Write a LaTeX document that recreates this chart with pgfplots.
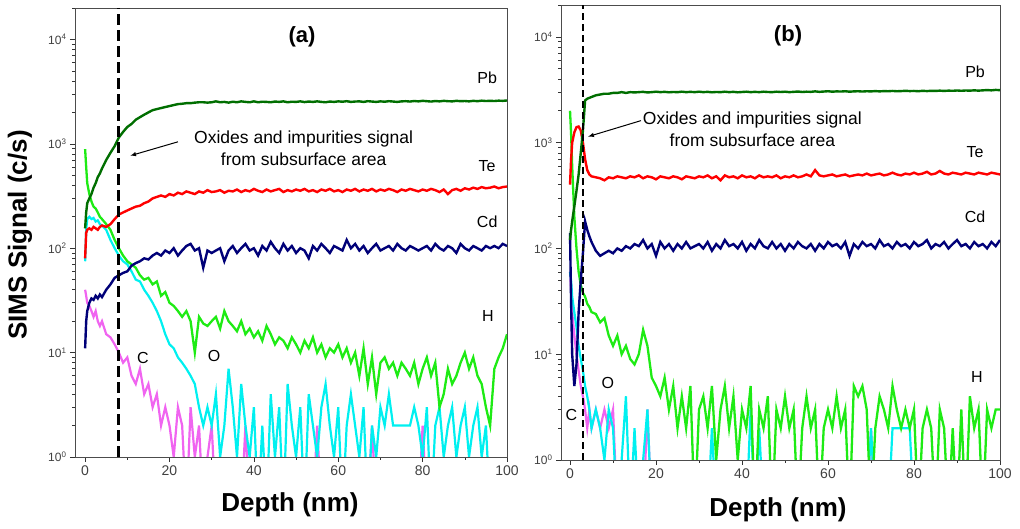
\documentclass[border=0pt]{standalone}
\usepackage{fontspec}
\setmainfont{Liberation Sans}
\usepackage{pgfplots}
\pgfplotsset{compat=1.18}
\usepackage{pgfplotstable}
\definecolor{cPb}{RGB}{0,110,0}
\definecolor{cTe}{RGB}{255,0,0}
\definecolor{cCd}{RGB}{0,0,120}
\definecolor{cH}{RGB}{30,235,20}
\definecolor{cO}{RGB}{0,240,240}
\definecolor{cC}{RGB}{240,100,240}

\pgfplotstableread{
x Pb Te Cd H O C
0 155 80 11 890 75 40
0.25 220 140 20 600 150 35
0.5 270 150 25 420 190 30
1 300 155 30 330 200 28
1.5 330 150 33 280 190 25
2 380 160 32 250 195 22
2.5 420 155 35 240 180 25
3 480 150 33 220 185 20
3.5 520 160 36 200 170 18
4 580 165 34 190 165 20
5 700 160 40 170 150 15
6 820 170 45 150 120 14
7 950 190 52 120 100 12
8 1150 210 55 100 85 10
9 1300 220 58 85 75 8
10 1450 230 60 75 70 9
11 1550 240 68 70 60 6
12 1700 250 72 65 50 5
13 1800 255 75 55 48 7
14 1900 270 80 50 40 4
15 2000 280 78 52 35 5
16 2100 300 85 45 30 3
17 2150 310 90 48 25 4
18 2200 320 85 35 20 2
19 2250 310 95 38 15 3
20 2300 330 90 30 12 2
21 2350 320 100 28 11 1
22 2400 340 85 25 9 3
23 2420 330 95 22 8 2
24 2450 350 105 25 7 0.3
25 2450 340 110 20 6 3
26 2480 330 95 10 5 1
27 2500 350 100 22 3 2
28 2500 340 65 19 2 0.3
29 2480 360 95 18 3 1
30 2500 345 90 20 2 2
31 2550 350 95 22 4 0.3
32 2500 360 100 17 1 0.3
33 2520 340 75 25 2 0.3
34 2480 355 95 20 7 0.3
35 2530 350 105 18 3 0.3
36 2500 365 90 16 1 0.3
37 2550 345 100 20 5 0.3
38 2520 360 110 15 2 2
39 2500 350 95 17 1 0.3
40 2550 370 100 14 3 0.3
41 2500 355 85 16 0.3 0.3
42 2530 345 105 13 2 0.3
43 2520 365 95 18 0.3 0.3
44 2500 350 115 15 4 0.3
45 2540 360 100 12 1 0.3
46 2520 370 90 14 3 0.3
47 2550 345 110 13 0.3 0.3
48 2500 360 95 11 5 0.3
49 2530 350 105 14 2 0.3
50 2520 365 90 12 1 0.3
51 2550 355 100 10 3 0.3
52 2510 370 95 13 0.3 0.3
53 2540 350 80 11 4 0.3
54 2520 360 105 14 2 0.3
55 2550 345 95 10 1 2
56 2520 365 110 12 3 0.3
57 2500 355 100 9 5 0.3
58 2540 370 90 11 2 0.3
59 2520 350 105 10 1 0.3
60 2550 360 100 12 3 0.3
61 2530 345 95 9 0.3 0.3
62 2560 365 120 11 2 0.3
63 2520 355 100 8 4 0.3
64 2540 370 110 10 2 0.3
65 2550 350 95 6 1 0.3
66 2520 365 105 11 3 0.3
67 2560 355 90 5 0.3 0.3
68 2540 370 100 9 2 2
69 2520 350 110 4 1 0.3
70 2550 365 95 8 3 0.3
71 2530 355 100 9 2 0.3
72 2560 370 105 7 4 0.3
73 2540 360 95 8 2 0.3
74 2520 345 110 6 2 0.3
75 2550 365 100 8 2 0.3
76 2560 355 95 7 2 0.3
77 2540 370 105 6 2 0.3
78 2570 360 100 8 3 0.3
79 2550 350 95 5 2 0.3
80 2580 365 100 7 1 2
81 2560 355 105 9 3 0.3
82 2540 370 95 6 0.3 0.3
83 2570 360 110 8 2 0.3
84 2550 345 100 3 3 0.3
85 2580 365 95 4 1 0.3
86 2560 330 105 7 2 0.3
87 2550 360 100 5 3 0.3
88 2580 370 90 6 1 0.3
89 2560 355 110 8 2 0.3
90 2570 375 100 10 3 0.3
91 2550 365 95 7 1 0.3
92 2580 380 105 9 2 0.3
93 2560 370 100 6 3 0.3
94 2590 385 95 5 1 0.3
95 2570 375 105 3 2 0.3
96 2580 380 100 2 0.3 0.3
97 2570 390 105 7 0.3 0.3
98 2590 375 100 9 0.3 0.3
99 2580 385 110 11 0.3 0.3
100 2600 390 105 15 0.3 0.3
}\dataA

\pgfplotstableread{
x Pb Te Cd H O C
0 120 400 140 2000 60 60
0.25 150 700 30 1200 50 40
0.5 180 1000 10 600 35 25
1 250 1250 5 200 25 15
1.5 350 1400 8 100 18 10
2 500 1420 25 60 12 7
2.5 800 1300 50 45 9 5
3 1300 1000 90 38 7 4
3.5 2500 700 180 35 5 3
4 2600 550 150 30 4 2
4.5 2650 500 130 28 3 3
5 2700 480 115 25 2 2
6 2800 470 95 24 3 3
7 2850 460 85 20 2 2
8 2900 440 90 22 1 3
9 2900 470 95 15 3 2
10 2950 460 90 12 2 3
11 2950 480 100 15 0.3 0.3
12 3000 470 95 10 1 0.3
13 2950 460 105 12 4 0.3
14 3000 480 100 9 0.3 0.3
15 2980 470 110 8 2 0.3
16 3000 490 105 10 0.3 0.3
17 3020 460 120 17 1 0.3
18 2980 480 100 12 3 3
19 3000 470 110 6 0.3 0.3
20 3030 450 85 5 0.3 0.3
21 3000 480 115 4 0.3 0.3
22 3020 470 100 6 0.3 0.3
23 2990 460 110 3 0.3 0.3
24 3010 480 95 5 0.3 0.3
25 3000 470 110 2 0.3 0.3
26 3030 450 100 4 0.3 0.3
27 3000 480 115 2 0.3 0.3
28 3020 470 100 5 0.3 0.3
29 3000 460 105 0.3 0.3 0.3
30 3030 480 110 3 0.3 0.3
31 3000 470 100 4 0.3 0.3
32 3020 490 115 2 0.3 0.3
33 2990 460 95 5 2 0.3
34 3010 480 110 1 0.3 0.3
35 3000 440 100 3 0.3 0.3
36 3030 490 120 5 0.3 0.3
37 3000 470 105 2 0.3 0.3
38 3020 480 110 4 0.3 0.3
39 2990 460 100 1 0.3 0.3
40 3010 490 115 3 0.3 0.3
41 3030 470 95 2 0.3 0.3
42 3000 480 110 5 3 0.3
43 3020 460 100 0.3 0.3 0.3
44 3000 490 120 3 2 0.3
45 3030 470 105 2 0.3 0.3
46 3010 480 100 4 0.3 0.3
47 3000 470 115 0.3 0.3 0.3
48 3030 490 100 3 0.3 0.3
49 3010 460 110 2 0.3 0.3
50 3030 480 95 4 0.3 0.3
51 3000 470 110 2 0.3 0.3
52 3020 490 100 3 0.3 0.3
53 3040 470 115 0.3 0.3 0.3
54 3010 480 105 2 0.3 0.3
55 3030 500 100 4 0.3 0.3
56 3020 480 110 2 0.3 0.3
57 3050 550 95 3 0.3 0.3
58 3020 490 110 0.3 0.3 0.3
59 3040 480 100 2 0.3 0.3
60 3060 490 115 3 0.3 0.3
61 3030 500 105 2 0.3 0.3
62 3050 480 110 4 0.3 0.3
63 3040 490 100 2 0.3 0.3
64 3060 500 115 3 0.3 0.3
65 3030 480 85 0.3 0.3 0.3
66 3050 490 110 5 0.3 0.3
67 3060 500 100 4 0.3 0.3
68 3040 490 115 5 0.3 0.3
69 3060 510 105 3 0.3 0.3
70 3050 490 110 0.3 2 2
71 3070 500 100 2 0.3 0.3
72 3050 510 120 4 0.3 0.3
73 3070 490 105 3 0.3 0.3
74 3060 500 110 2 0.3 0.3
75 3080 520 100 5 2 0.3
76 3060 500 115 3 2 0.3
77 3070 490 105 2 2 0.3
78 3090 510 110 3 2 0.3
79 3070 500 100 2 2 0.3
80 3080 520 115 3 0.3 0.3
81 3060 500 105 0.3 0.3 0.3
82 3090 510 110 2 0.3 0.3
83 3070 530 120 3 0.3 0.3
84 3090 500 100 2 0.3 0.3
85 3080 510 110 0.3 0.3 0.3
86 3100 540 105 3 0.3 0.3
87 3080 510 115 2 0.3 0.3
88 3100 500 100 0.3 0.3 0.3
89 3090 520 110 2 0.3 0.3
90 3110 510 120 0.3 0.3 0.3
91 3090 500 105 3 0.3 0.3
92 3110 520 110 0.3 0.3 0.3
93 3100 510 100 4 0.3 0.3
94 3120 500 115 2 0.3 0.3
95 3100 520 105 3 0.3 0.3
96 3120 510 110 0.3 0.3 0.3
97 3140 500 100 3 0.3 0.3
98 3120 520 115 2 0.3 0.3
99 3150 510 105 3 0.3 0.3
100 3130 500 120 3 0.3 0.3
}\dataB

\begin{document}
\begin{tikzpicture}
\useasboundingbox (0,0) rectangle (1020pt,529pt);
\begin{axis}[scale only axis, anchor=south west,
  at={(75pt,72pt)}, width=432pt, height=449pt, xmin=-2.4,
  ymode=log, ymin=1, ymax=20000, xmax=100,
  xtick={0,20,40,60,80,100}, minor x tick num=1,
  ytick={1,10,100,1000,10000},
  yticklabels={10\textsuperscript{0},10\textsuperscript{1},10\textsuperscript{2},10\textsuperscript{3},10\textsuperscript{4}},
  minor ytick={2,3,4,5,6,7,8,9,20,30,40,50,60,70,80,90,200,300,400,500,600,700,800,900,2000,3000,4000,5000,6000,7000,8000,9000,20000},
  xtick pos=bottom, ytick pos=left,
  tick align=outside, major tick length=5pt, minor tick length=3pt,
  tick style={black!80, line width=0.6pt},
  axis line style={black!70, line width=0.7pt},
  xticklabel style={font=\fontsize{14}{14}\selectfont, text=black!75},
  yticklabel style={font=\fontsize{12}{12}\selectfont, text=black!75},
  /pgf/number format/assume math mode=true]
\addplot[cC, line width=2.2pt, no marks] table[x=x,y=C]{\dataA};
\addplot[cO, line width=2.2pt, no marks] table[x=x,y=O]{\dataA};
\addplot[cH, line width=2.3pt, no marks] table[x=x,y=H]{\dataA};
\addplot[cCd, line width=2.4pt, no marks] table[x=x,y=Cd]{\dataA};
\addplot[cTe, line width=2.4pt, no marks] table[x=x,y=Te]{\dataA};
\addplot[cPb, line width=2.4pt, no marks] table[x=x,y=Pb]{\dataA};
\addplot[black, line width=3pt, dash pattern=on 11pt off 5pt, no marks] coordinates {(8,1) (8,20000)};
\node[font=\bfseries\fontsize{22}{22}\selectfont] at (axis cs:51.4,10500) {(a)};
\node[font=\fontsize{16}{16}\selectfont] at (axis cs:95.3,4270) {Pb};
\node[font=\fontsize{16}{16}\selectfont] at (axis cs:95.3,617) {Te};
\node[font=\fontsize{16}{16}\selectfont] at (axis cs:95.3,181) {Cd};
\node[font=\fontsize{16}{16}\selectfont] at (axis cs:95.5,22.5) {H};
\node[font=\fontsize{16}{16}\selectfont] at (axis cs:13.7,8.8) {C};
\node[font=\fontsize{16}{16}\selectfont] at (axis cs:30.6,9.2) {O};
\node[font=\fontsize{17.5}{22}\selectfont, align=center] at (axis cs:51.8,905) {Oxides and impurities signal\\from subsurface area};
\draw[-latex, line width=1pt] (axis cs:22,1045) -- (axis cs:10.7,769);
\end{axis}

\begin{axis}[scale only axis, anchor=south west,
  at={(561pt,69pt)}, width=439pt, height=455pt, xmin=-2.1,
  ymode=log, ymin=1, ymax=20000, xmax=100,
  xtick={0,20,40,60,80,100}, minor x tick num=1,
  ytick={1,10,100,1000,10000},
  yticklabels={10\textsuperscript{0},10\textsuperscript{1},10\textsuperscript{2},10\textsuperscript{3},10\textsuperscript{4}},
  minor ytick={2,3,4,5,6,7,8,9,20,30,40,50,60,70,80,90,200,300,400,500,600,700,800,900,2000,3000,4000,5000,6000,7000,8000,9000,20000},
  xtick pos=bottom, ytick pos=left,
  tick align=outside, major tick length=5pt, minor tick length=3pt,
  tick style={black!80, line width=0.6pt},
  axis line style={black!70, line width=0.7pt},
  xticklabel style={font=\fontsize{14}{14}\selectfont, text=black!75},
  yticklabel style={font=\fontsize{12}{12}\selectfont, text=black!75},
  /pgf/number format/assume math mode=true]
\addplot[cC, line width=2.2pt, no marks] table[x=x,y=C]{\dataB};
\addplot[cO, line width=2.2pt, no marks] table[x=x,y=O]{\dataB};
\addplot[cH, line width=2.3pt, no marks] table[x=x,y=H]{\dataB};
\addplot[cCd, line width=2.4pt, no marks] table[x=x,y=Cd]{\dataB};
\addplot[cTe, line width=2.4pt, no marks] table[x=x,y=Te]{\dataB};
\addplot[cPb, line width=2.4pt, no marks] table[x=x,y=Pb]{\dataB};
\addplot[black, line width=1.6pt, dash pattern=on 7pt off 4pt, no marks] coordinates {(3,1) (3,20000)};
\node[font=\bfseries\fontsize{22}{22}\selectfont] at (axis cs:50.7,10200) {(b)};
\node[font=\fontsize{16}{16}\selectfont] at (axis cs:94.2,4680) {Pb};
\node[font=\fontsize{16}{16}\selectfont] at (axis cs:94.2,822) {Te};
\node[font=\fontsize{16}{16}\selectfont] at (axis cs:94.2,200) {Cd};
\node[font=\fontsize{16}{16}\selectfont] at (axis cs:94.6,6.1) {H};
\node[font=\fontsize{16}{16}\selectfont] at (axis cs:8.8,5.3) {O};
\node[font=\fontsize{16}{16}\selectfont] at (axis cs:0.3,2.66) {C};
\node[font=\fontsize{17.5}{22}\selectfont, align=center] at (axis cs:42.4,1340) {Oxides and impurities signal\\from subsurface area};
\draw[-latex, line width=1pt] (axis cs:16.5,1614) -- (axis cs:4.2,1140);
\end{axis}

\node[rotate=90, font=\bfseries\fontsize{26}{26}\selectfont] at (20pt,294pt) {SIMS Signal (c/s)};
\node[font=\bfseries\fontsize{26}{26}\selectfont] at (290pt,24pt) {Depth (nm)};
\node[font=\bfseries\fontsize{26}{26}\selectfont] at (778pt,19pt) {Depth (nm)};
\end{tikzpicture}
\end{document}
